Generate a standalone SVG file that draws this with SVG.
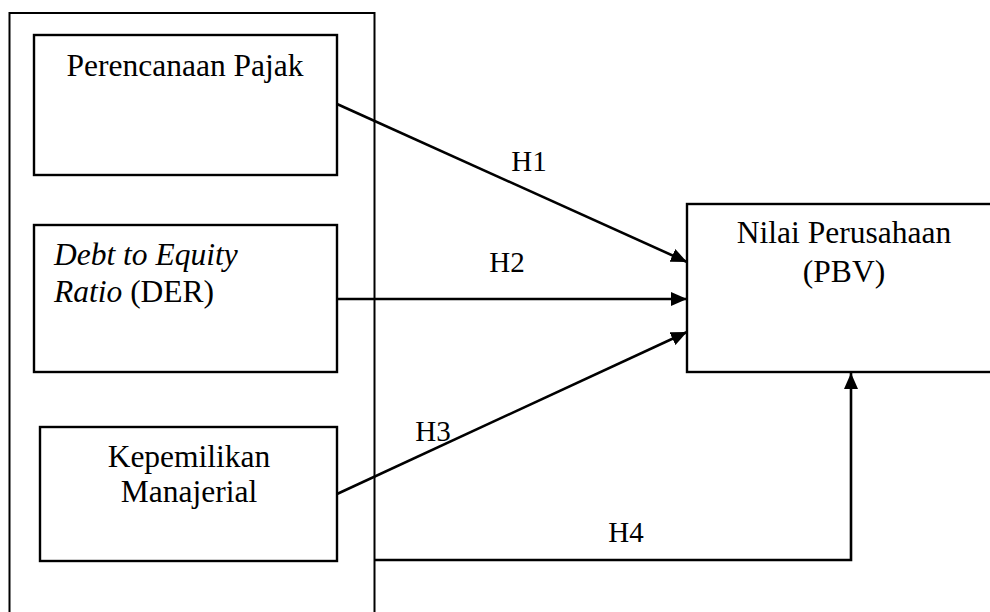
<svg xmlns="http://www.w3.org/2000/svg" width="990" height="612" viewBox="0 0 990 612">
<style>
.box{fill:#fff;stroke:#000;stroke-width:2.4}
.t{font-family:"Liberation Serif","Times New Roman",serif;font-size:31.5px;fill:#000}
.l{font-family:"Liberation Serif","Times New Roman",serif;font-size:29px;fill:#000;text-anchor:middle}
.c{fill:none;stroke:#000;stroke-width:2.6}
</style>
<defs>
<marker id="ah" markerWidth="16" markerHeight="14" refX="16" refY="7" orient="auto" markerUnits="userSpaceOnUse">
<path d="M0,0 L16,7 L0,14 Z" fill="#000"/>
</marker>
</defs>
<g id="group-outer"><rect x="9.5" y="13" width="365" height="620" fill="none" stroke="#000" stroke-width="2"/></g>
<g id="node-pajak"><rect class="box" x="34" y="35" width="303" height="140"/><text class="t" x="185" y="76" text-anchor="middle">Perencanaan Pajak</text></g>
<g id="node-der"><rect class="box" x="34" y="225" width="303" height="147"/><text class="t" x="54" y="265"><tspan font-style="italic">Debt to Equity</tspan></text><text class="t" x="54" y="302"><tspan font-style="italic">Ratio</tspan> (DER)</text></g>
<g id="node-km"><rect class="box" x="40" y="427" width="297" height="134"/><text class="t" x="189" y="467" text-anchor="middle">Kepemilikan</text><text class="t" x="189" y="502" text-anchor="middle">Manajerial</text></g>
<g id="node-pbv"><rect class="box" x="687" y="204" width="310" height="168"/><text class="t" x="844" y="243" text-anchor="middle">Nilai Perusahaan</text><text class="t" x="844" y="282" text-anchor="middle">(PBV)</text></g>
<g id="connectors">
<line class="c" x1="337" y1="104" x2="687" y2="262" marker-end="url(#ah)"/>
<line class="c" x1="337" y1="299" x2="687" y2="299" marker-end="url(#ah)"/>
<line class="c" x1="337" y1="494" x2="687" y2="332" marker-end="url(#ah)"/>
<polyline class="c" points="375,560 851,560 851,373" marker-end="url(#ah)"/>
<text class="l" x="529" y="171">H1</text>
<text class="l" x="507" y="272">H2</text>
<text class="l" x="433" y="441">H3</text>
<text class="l" x="626" y="542">H4</text>
</g>
</svg>
